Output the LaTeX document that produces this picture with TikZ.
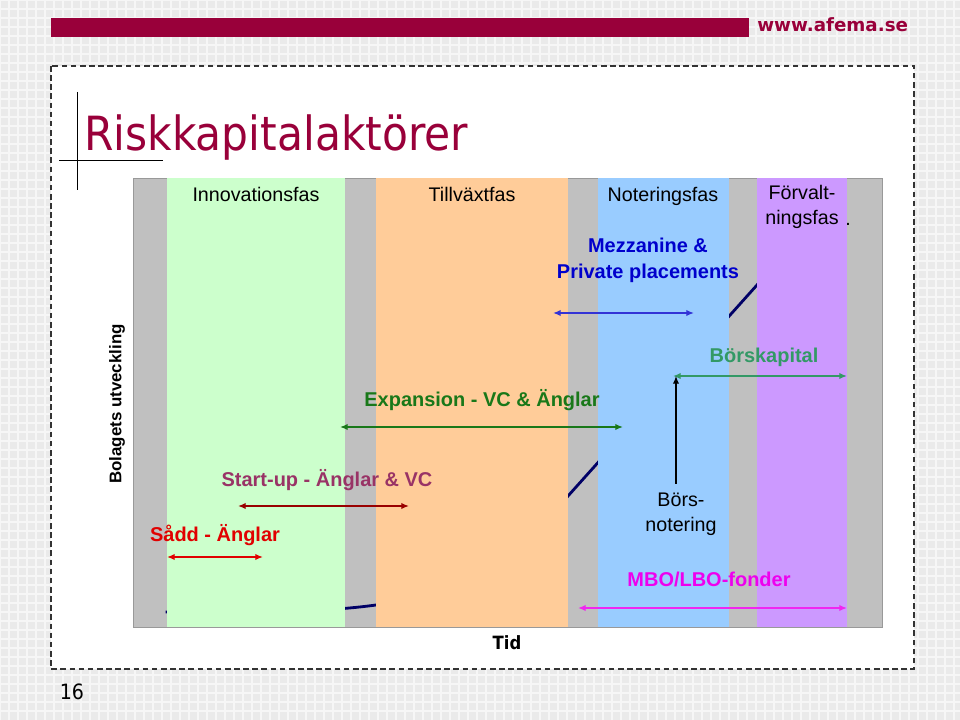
\documentclass[tikz,border=0pt]{standalone}
\usepackage{fontspec}
\setmainfont{Liberation Sans}
\newfontfamily\titlefont[FakeStretch=0.9]{DejaVu Sans}
\newfontfamily\logofont{DejaVu Sans}
\usetikzlibrary{arrows.meta}

\definecolor{slidebg}{RGB}{234,234,234}
\definecolor{slidegrid}{RGB}{246,246,246}
\definecolor{afemared}{RGB}{153,0,58}
\definecolor{bandgray}{RGB}{192,192,192}
\definecolor{bandgreen}{RGB}{204,255,204}
\definecolor{bandorange}{RGB}{255,204,153}
\definecolor{bandblue}{RGB}{153,204,255}
\definecolor{bandpurple}{RGB}{204,153,255}
\definecolor{kurvblue}{RGB}{0,0,102}
\definecolor{mezzblue}{RGB}{0,0,204}
\definecolor{borsgreen}{RGB}{51,153,102}
\definecolor{expgreen}{RGB}{25,120,25}
\definecolor{startred}{RGB}{153,51,102}
\definecolor{startarrow}{RGB}{153,0,0}
\definecolor{saddred}{RGB}{225,0,0}
\definecolor{mbopink}{RGB}{238,0,238}

\begin{document}
\begin{tikzpicture}[
    x=0.025cm,y=-0.025cm,
    >={Latex[length=5.5pt,width=4.5pt]},
    fas/.style={
        font=\fontsize{14}{18}\selectfont,
        align=center,
        inner sep=0pt
    },
    aktor/.style={
        font=\fontsize{14.2}{18.5}\selectfont\bfseries,
        align=center,
        inner sep=0pt
    },
    spann/.style={<->, line width=1pt},
    band/.style={draw=none}
]
\useasboundingbox (0,0) rectangle (960,720);

% ====== bakgrund ======
\fill[slidebg] (0,0) rectangle (960,720);
\draw[slidegrid, line width=1.2pt] (0,0) grid[step=0.225cm] (960,720);
\fill[afemared] (51,18) rectangle (749,37);
\node[anchor=base west, inner sep=0pt, text=afemared,
      font=\logofont\fontsize{13}{15}\selectfont\bfseries] (logo) at (757,32) {www.afema.se};
\draw[fill=white, draw=black!80, line width=1pt, dash pattern=on 4pt off 2.5pt]
    (51,66) rectangle (914,669);

% ====== rubrik ======
\draw[line width=0.6pt] (77,92) -- (77,190);
\draw[line width=0.6pt] (59,160) -- (163,160);
\node[anchor=base west, inner sep=0pt, text=afemared,
      font=\titlefont\fontsize{33.5}{36}\selectfont] (rubrik) at (84,151) {Riskkapitalaktörer};

% ====== faser ======
\fill[bandgray, draw=black!40, line width=0.6pt] (133,178) rectangle (882,627);
\draw[kurvblue, line width=2pt]
    (165.5,612) .. controls (270,612) and (325,612) .. (376,605)
              .. controls (440,597) and (504,566) .. (568,496)
              -- (800,237);
\fill[bandgreen]  (167,178) rectangle (345,627);
\fill[bandorange] (376,178) rectangle (568,627);
\fill[bandblue]   (598,178) rectangle (729,627);
\fill[bandpurple] (757,178) rectangle (847,627);

\node[fas] (innovation) at (256,194) {Innovationsfas};
\node[fas] (tillvaxt)   at (472,194) {Tillväxtfas};
\node[fas] (notering)   at (663,196) {Noteringsfas};
\node[fas] (forvalt)    at (802,207) {Förvalt-\\ningsfas};
\node[fas] (fasdot)     at (848,224) {.};

% ====== aktörer ======
\node[aktor, text=mezzblue]   (mezz)   at (648,260) {Mezzanine \&\\Private placements};
\node[aktor, text=borsgreen]  (borskap) at (764,357) {Börskapital};
\node[aktor, text=expgreen]   (expans) at (482,400) {Expansion - VC \& Änglar};
\node[aktor, text=startred]   (startup) at (327,480) {Start-up - Änglar \& VC};
\node[aktor, text=saddred]    (sadd)   at (215,535) {Sådd - Änglar};
\node[aktor, text=mbopink]    (mbo)    at (709,579) {MBO/LBO-fonder};
\node[fas] (borsnot) at (681,514) {Börs-\\notering};

% pilarnas ändar
\coordinate (saddL) at (167,557);   \coordinate (saddR) at (263,557);
\coordinate (startL) at (238,506);  \coordinate (startR) at (409,506);
\coordinate (expL) at (340,427);    \coordinate (expR) at (623,427);
\coordinate (mezzL) at (553,313);   \coordinate (mezzR) at (694,313);
\coordinate (borsL) at (673,376);   \coordinate (borsR) at (847,376);
\coordinate (mboL) at (578,608);    \coordinate (mboR) at (847,608);
\coordinate (notBot) at (676,484);  \coordinate (notTop) at (676,376);

\draw[spann, saddred]    (saddL) -- (saddR);
\draw[spann, startarrow] (startL) -- (startR);
\draw[spann, expgreen]   (expL) -- (expR);
\draw[spann, mezzblue!80] (mezzL) -- (mezzR);
\draw[spann, borsgreen]  (borsL) -- (borsR);
\draw[spann, mbopink!85] (mboL) -- (mboR);
\draw[->, line width=0.8pt] (notBot) -- (notTop);

% ====== axlar ======
\node[aktor, font=\fontsize{12}{14}\selectfont\bfseries, rotate=90] (utveckling) at (117,404) {Bolagets utveckling};
\node[inner sep=0pt, font=\titlefont\fontsize{13}{15}\selectfont\bfseries] (tid) at (507,643) {Tid};
\node[inner sep=0pt, font=\titlefont\fontsize{15}{17}\selectfont] (sida) at (72,692) {16};

\end{tikzpicture}
\end{document}
